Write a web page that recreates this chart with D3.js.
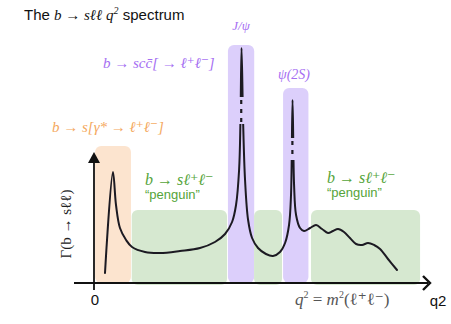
<!DOCTYPE html>
<html><head><meta charset="utf-8">
<script src="https://cdn.jsdelivr.net/npm/d3@7"></script>
<style>body{margin:0;background:#fff}svg{display:block}</style>
</head><body><svg id="c" width="451" height="324"></svg>
<script>
// schematic q^2 positions (arbitrary units) and rate Γ (arbitrary units)
const curveQ2 = [0.72,1.24,1.44,1.70,2.10,2.49,3.34,4.32,5.63,6.94,7.92,8.58,9.04,9.30,9.50,9.59,9.66,9.76,9.89,10.09,10.35,10.74,11.26,11.72,12.18,12.51,12.77,12.90,13.00,13.10,13.23,13.49,13.75,14.15,14.54,14.93,15.32,15.65,15.98,16.37,16.76,17.16,17.55,17.94,18.34,18.73,19.25,19.84];
const curveRate = [0.50,5.55,3.90,2.75,2.15,1.80,1.55,1.50,1.60,1.75,2.05,2.45,3.05,3.90,5.65,8.15,11.75,8.15,5.15,3.15,2.25,1.75,1.45,1.35,1.55,2.00,2.90,4.40,9.15,4.90,3.40,2.75,2.60,2.75,2.90,2.70,2.50,2.60,2.70,2.55,2.25,1.95,1.90,2.00,1.90,1.70,1.20,0.65];

// shaded regions: [q2 from, q2 to, top Γ]
const regionNames = ["gamma","penguin1","jpsi","penguin2","psi2s","penguin3"];
const regionFrom  = [0.07, 2.47, 8.77, 10.48, 12.38, 14.21];
const regionTo    = [2.42, 8.71, 10.49, 12.31, 14.04, 21.35];
const regionTop   = [6.85, 3.65, 11.9, 3.65, 9.75, 3.65];
const regionKind  = ["orange","green","purple","green","purple","green"];

// broken (dashed) parts of the resonance peaks: [peak q2, Γ low, Γ high]
const breakQ2   = [9.64, 12.99];
const breakLow  = [7.95, 6.15];
const breakHigh = [9.30, 7.25];

const W = 451, H = 324;
const x = d3.scaleLinear().domain([0, 22]).range([94, 430]);
const y = d3.scaleLinear().domain([0, 12]).range([283, 43]);

const fills = {orange:"#fce4cf", green:"#d6e8d0", purple:"#dccffb"};
const svg = d3.select("#c");
const serif = "'Liberation Serif','DejaVu Serif',serif";
const sans = "'Liberation Sans',Arial,sans-serif";

// regions
svg.append("g").selectAll("rect").data(regionNames).join("rect")
  .attr("x", (d,i)=>x(regionFrom[i]))
  .attr("y", (d,i)=>y(regionTop[i]))
  .attr("width", (d,i)=>x(regionTo[i])-x(regionFrom[i]))
  .attr("height", (d,i)=> (regionKind[i]==="green"? 285 : 283) - y(regionTop[i]))
  .attr("rx", 6)
  .attr("fill", (d,i)=>fills[regionKind[i]]);

// axes
const axisG = svg.append("g").attr("stroke","#111").attr("fill","none");
axisG.append("line").attr("x1",74).attr("x2",x(22)-2).attr("y1",y(0)).attr("y2",y(0)).attr("stroke-width",1.8);
axisG.append("line").attr("x1",x(0)).attr("x2",x(0)).attr("y1",y(0)+7).attr("y2",y(6.3)).attr("stroke-width",1.8);
svg.append("path").attr("d",`M${x(0)-6},${y(6.3)+6} L${x(0)},${y(6.3)-5} L${x(0)+6},${y(6.3)+6} Z`).attr("fill","#111");
svg.append("path").attr("d",`M${x(22)-7},${y(0)-7} L${x(22)},${y(0)} L${x(22)-7},${y(0)+7}`)
  .attr("fill","none").attr("stroke","#111").attr("stroke-width",2.4).attr("stroke-linejoin","miter");

// mask for dashed breaks
const defs = svg.append("defs");
const mask = defs.append("mask").attr("id","brk");
mask.append("rect").attr("width",W).attr("height",H).attr("fill","#fff");
breakQ2.forEach((q,i)=>{
  mask.append("rect").attr("x",x(q)-8).attr("width",16)
    .attr("y",y(breakHigh[i])).attr("height",y(breakLow[i])-y(breakHigh[i])).attr("fill","#000");
});

const pts = curveQ2.map((q,i)=>[x(q), y(curveRate[i])]);
const line = d3.line().curve(d3.curveCatmullRom.alpha(0.5));
svg.append("path").attr("d", line(pts)).attr("mask","url(#brk)")
  .attr("fill","none").attr("stroke","#1c1a22").attr("stroke-width",2).attr("stroke-linejoin","round").attr("stroke-linecap","round");

breakQ2.forEach((q,i)=>{
  svg.append("line").attr("x1",x(q)).attr("x2",x(q))
    .attr("y1",y(breakHigh[i])+3).attr("y2",y(breakLow[i])-2)
    .attr("stroke","#1c1a22").attr("stroke-width",2.2).attr("stroke-dasharray","4,5");
});

// text helpers
function label(xp, yp, parts, opts){
  const t = svg.append("text").attr("x",xp).attr("y",yp)
    .attr("fill",opts.color).attr("font-size",opts.size).attr("font-family",opts.family||serif)
    .attr("font-style",opts.style||"italic").attr("text-anchor",opts.anchor||"start");
  parts.forEach(p=>{
    const s = t.append("tspan").text(p.t);
    if(p.f) s.attr("font-family",p.f);
    if(p.s) s.attr("font-style",p.s);
    if(p.z) s.attr("font-size",p.z);
    if(p.dy) s.attr("dy",p.dy);
  });
  return t;
}

// title
label(24, 20, [
  {t:"The ", f:sans, s:"normal"},
  {t:"b → sℓℓ q"},
  {t:"2", z:10, dy:-6},
  {t:" spectrum", f:sans, s:"normal", dy:6}
], {color:"#111", size:15});

const purple = "#a56ef2", orange = "#f4a85e", green = "#55a43a";
label(103, 68, [{t:"b → scc̄[ → ℓ⁺ℓ⁻]"}], {color:purple, size:15});
label(52, 132, [{t:"b → s[γ* → ℓ⁺ℓ⁻]"}], {color:orange, size:15});
label(241, 30, [{t:"J/ψ"}], {color:purple, size:13, anchor:"middle"});
label(294, 79, [{t:"ψ(2S)"}], {color:purple, size:14, anchor:"middle"});

label(145, 185, [{t:"b → sℓ⁺ℓ⁻"}], {color:green, size:16});
label(145, 199, [{t:"“penguin”"}], {color:green, size:13, family:sans, style:"normal"});
label(327, 183, [{t:"b → sℓ⁺ℓ⁻"}], {color:green, size:16});
label(327, 197, [{t:"“penguin”"}], {color:green, size:13, family:sans, style:"normal"});

// y label
svg.append("text").attr("transform","translate(71,224) rotate(-90)")
  .attr("text-anchor","middle").attr("font-family",serif).attr("font-size",15).attr("fill","#222")
  .text("Γ(b → sℓℓ)").select(function(){return this;});

// axis labels
label(x(0)+1, 305, [{t:"0"}], {color:"#111", size:15, family:sans, style:"normal", anchor:"middle"});
label(438, 306, [{t:"q2"}], {color:"#111", size:15, family:sans, style:"normal", anchor:"middle"});
label(295, 305, [
  {t:"q"},{t:"2", z:10, dy:-7, s:"normal"},{t:" = ", s:"normal", dy:7},{t:"m"},{t:"2", z:10, dy:-7, s:"normal"},
  {t:"(ℓ⁺ℓ⁻)", s:"normal", dy:7}
], {color:"#555", size:17});
</script></body></html>
